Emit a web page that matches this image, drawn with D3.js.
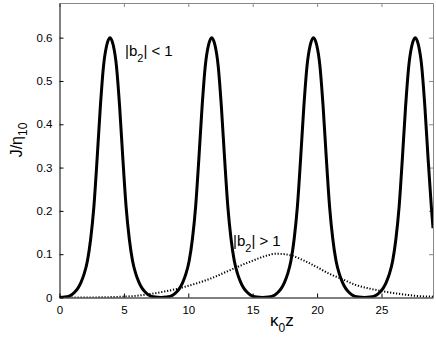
<!DOCTYPE html>
<html>
<head>
<meta charset="utf-8">
<script src="https://cdn.jsdelivr.net/npm/d3@7"></script>
<style>
  body { margin: 0; background: #fff; }
  text { font-family: "Liberation Sans", Arial, sans-serif; }
</style>
</head>
<body>
<script>
// |b2| < 1 curve (kappa0 z, J/eta10)
var solidX = [0, 0.42, 0.92, 1.17, 1.42, 1.67, 1.92, 2.17, 2.42, 2.67, 2.92, 3.17, 3.42, 3.67, 3.92,
  4.17, 4.42, 4.67, 4.92, 5.17, 5.42, 5.67, 5.92, 6.17, 6.42, 6.67, 6.92, 7.42, 7.87,
  8.32, 8.82, 9.07, 9.32, 9.57, 9.82, 10.07, 10.32, 10.57, 10.82, 11.07, 11.32, 11.57, 11.82,
  12.07, 12.32, 12.57, 12.82, 13.07, 13.32, 13.57, 13.82, 14.07, 14.32, 14.57, 14.82, 15.32, 15.77,
  16.22, 16.72, 16.97, 17.22, 17.47, 17.72, 17.97, 18.22, 18.47, 18.72, 18.97, 19.22, 19.47, 19.72,
  19.97, 20.22, 20.47, 20.72, 20.97, 21.22, 21.47, 21.72, 21.97, 22.22, 22.47, 22.72, 23.22, 23.67,
  24.12, 24.62, 24.87, 25.12, 25.37, 25.62, 25.87, 26.12, 26.37, 26.62, 26.87, 27.12, 27.37, 27.62,
  27.87, 28.12, 28.37, 28.62, 28.87, 29.0];
var solidY = [0, 0.001, 0.006, 0.012, 0.021, 0.035, 0.055, 0.085, 0.135, 0.21, 0.32, 0.44, 0.535, 0.583, 0.6,
  0.583, 0.535, 0.44, 0.32, 0.21, 0.135, 0.085, 0.055, 0.035, 0.021, 0.012, 0.006, 0.001, 0,
  0.001, 0.006, 0.012, 0.021, 0.035, 0.055, 0.085, 0.135, 0.21, 0.32, 0.44, 0.535, 0.583, 0.6,
  0.583, 0.535, 0.44, 0.32, 0.21, 0.135, 0.085, 0.055, 0.035, 0.021, 0.012, 0.006, 0.001, 0,
  0.001, 0.006, 0.012, 0.021, 0.035, 0.055, 0.085, 0.135, 0.21, 0.32, 0.44, 0.535, 0.583, 0.6,
  0.583, 0.535, 0.44, 0.32, 0.21, 0.135, 0.085, 0.055, 0.035, 0.021, 0.012, 0.006, 0.001, 0,
  0.001, 0.006, 0.012, 0.021, 0.035, 0.055, 0.085, 0.135, 0.21, 0.32, 0.44, 0.535, 0.583, 0.6,
  0.583, 0.535, 0.44, 0.32, 0.21, 0.16];

// |b2| > 1 curve
var dottedX = [0, 2, 4, 5, 6, 7, 8, 9, 10, 11, 12, 13, 14, 15, 16, 16.8, 17.5, 18, 19, 20, 21, 22, 23, 24, 25, 26, 27, 28, 29];
var dottedY = [0, 0, 0.001, 0.002, 0.004, 0.008, 0.013, 0.019, 0.027, 0.036, 0.047, 0.06, 0.073, 0.085, 0.096, 0.101, 0.1, 0.097, 0.085, 0.07, 0.054, 0.042, 0.029, 0.021, 0.015, 0.01, 0.006, 0.003, 0.002];

var xTicks = [0, 5, 10, 15, 20, 25];
var yTicks = [0, 0.1, 0.2, 0.3, 0.4, 0.5, 0.6];

var owidth = 436, oheight = 338;
var margin = {top: 3, right: 3, bottom: 40.5, left: 59.5},
    width = owidth - margin.left - margin.right,
    height = oheight - margin.top - margin.bottom;

var xScale = d3.scaleLinear().domain([0, 29]).range([0, width]);
var yScale = d3.scaleLinear().domain([0, 0.68]).range([height, 0]);

var svg = d3.select("body").append("svg")
    .attr("width", owidth)
    .attr("height", oheight)
  .append("g")
    .attr("transform", "translate(" + margin.left + "," + margin.top + ")");

// inward ticks, MATLAB style, on all four sides
svg.append("g")
    .attr("transform", "translate(0," + height + ")")
    .call(d3.axisBottom(xScale).tickValues(xTicks).tickSizeInner(-4).tickSizeOuter(0).tickPadding(8))
    .call(function(g) {
      g.select(".domain").attr("stroke", "#000");
      g.selectAll("text").attr("font-size", 11.5).attr("fill", "#000");
    });
svg.append("g")
    .call(d3.axisTop(xScale).tickValues(xTicks).tickSizeInner(-4).tickSizeOuter(0).tickFormat(""))
    .call(function(g) { g.selectAll("path, line").attr("stroke", "#888"); });
svg.append("g")
    .call(d3.axisLeft(yScale).tickValues(yTicks).tickSizeInner(-4).tickSizeOuter(0).tickPadding(7)
      .tickFormat(function(d) { return d === 0 ? "0" : d3.format(".1f")(d); }))
    .call(function(g) {
      g.select(".domain").attr("stroke", "#000");
      g.selectAll("text").attr("font-size", 11.5).attr("fill", "#000");
    });
svg.append("g")
    .attr("transform", "translate(" + width + ",0)")
    .call(d3.axisRight(yScale).tickValues(yTicks).tickSizeInner(-4).tickSizeOuter(0).tickFormat(""))
    .call(function(g) { g.selectAll("path, line").attr("stroke", "#888"); });

svg.append("defs").append("clipPath").attr("id", "clip")
  .append("rect").attr("width", width).attr("height", height + 2).attr("y", -2);

var line = d3.line()
    .x(function(d) { return xScale(d[0]); })
    .y(function(d) { return yScale(d[1]); })
    .curve(d3.curveMonotoneX);

svg.append("path")
    .datum(dottedX.map(function(x, i) { return [x, dottedY[i]]; }))
    .attr("clip-path", "url(#clip)")
    .attr("fill", "none")
    .attr("stroke", "#000")
    .attr("stroke-width", 2)
    .attr("stroke-dasharray", "1.2,1.8")
    .attr("d", line);

svg.append("path")
    .datum(solidX.map(function(x, i) { return [x, solidY[i]]; }))
    .attr("clip-path", "url(#clip)")
    .attr("fill", "none")
    .attr("stroke", "#000")
    .attr("stroke-width", 3)
    .attr("stroke-linejoin", "round")
    .attr("d", line);

// annotations
var t1 = svg.append("text").attr("x", 125 - margin.left).attr("y", 56 - margin.top)
    .attr("font-size", 15);
t1.append("tspan").text("|b");
t1.append("tspan").attr("font-size", 11).attr("dy", 6).text("2");
t1.append("tspan").attr("dy", -6).text("| < 1");

var t2 = svg.append("text").attr("x", 233 - margin.left).attr("y", 246 - margin.top)
    .attr("font-size", 15);
t2.append("tspan").text("|b");
t2.append("tspan").attr("font-size", 11).attr("dy", 6).text("2");
t2.append("tspan").attr("dy", -6).text("| > 1");

// axis titles
var xtitle = svg.append("text")
    .attr("x", 270 - margin.left)
    .attr("y", 326 - margin.top)
    .attr("font-size", 17);
xtitle.append("tspan").text("κ");
xtitle.append("tspan").attr("font-size", 12).attr("dy", 6).text("0");
xtitle.append("tspan").attr("dy", -6).text("z");

var ytitle = svg.append("text")
    .attr("transform", "translate(" + (22 - margin.left) + "," + (140 - margin.top) + ") rotate(-90)")
    .attr("text-anchor", "middle")
    .attr("font-size", 16);
ytitle.append("tspan").text("J/η");
ytitle.append("tspan").attr("font-size", 12).attr("dy", 5).text("10");
</script>
</body>
</html>
